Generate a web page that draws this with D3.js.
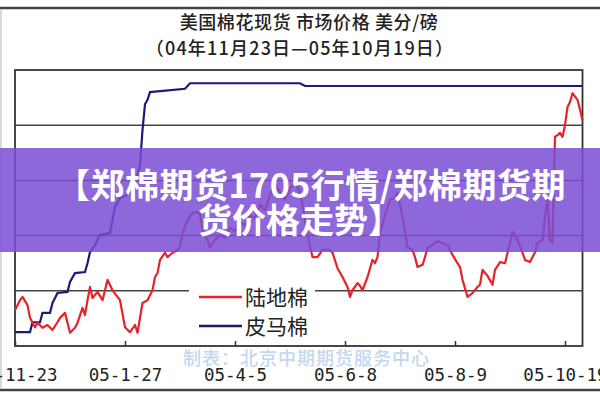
<!DOCTYPE html>
<html><head><meta charset="utf-8">
<script src="https://cdn.jsdelivr.net/npm/d3@7"></script>
<style>html,body{margin:0;padding:0;background:#fff;}svg{display:block;}</style>
</head><body>
<script>
// ---- data (trading-day index, cents per pound) ----
const tickDays = [0, 44, 88, 132, 176, 220];
const tickLabels = ["04-11-23", "05-1-27", "05-4-5", "05-6-8", "05-8-9", "05-10-19"];
const gridValues = [50, 60, 70, 80];

const uplandDays = [0,2,3,5,6,8,9,11,13,15,17,18,20,22,24,25,27,28,29,30,31,33,35,36,37,39,41,42,44,46,48,49,51,53,55,56,57,58,60,61,63,65,66,67,69,71,73,74,75,77,78,80,82,84,86,88,90,92,94,96,98,100,102,104,106,108,110,112,114,115,117,119,121,123,126,127,129,131,133,134,135,137,138,139,141,143,144,145,146,148,150,152,153,155,157,159,160,161,163,164,165,167,169,170,173,174,175,177,178,179,181,183,185,186,187,189,191,192,194,196,198,199,201,203,204,206,208,209,211,212,213,214,215,216,217,218,219,220,221,222,223,225,226,227];
const uplandPrices = [46.5,48.3,48.9,47.4,45.1,43.4,44.2,43.3,43.8,42.9,44.3,45.1,46.0,42.4,43.3,44.2,46.9,45.6,48.3,50.7,48.7,49.8,48.3,50.1,52.0,50.1,48.9,48.3,43.4,42.5,43.8,42.4,47.8,48.3,50.1,52.5,53.2,55.6,56.9,56.1,56.9,57.4,57.9,60.5,62.8,64.1,64.3,63.9,61.0,59.2,57.9,59.2,60.1,59.6,61.4,60.7,62.5,61.9,63.7,63.2,65.6,64.6,67.4,69.2,67.9,66.5,68.6,69.5,67.9,65.6,60.1,56.1,56.1,57.4,57.4,56.9,54.1,52.5,50.7,48.9,50.1,51.4,50.9,50.1,52.5,55.6,55.0,56.1,60.5,63.7,66.5,66.8,67.7,63.4,57.9,57.4,56.1,54.3,54.7,56.1,57.8,58.3,59.0,58.8,58.3,57.4,56.5,55.0,54.3,52.0,48.9,49.6,50.7,51.1,53.8,52.7,51.1,53.8,55.2,55.0,58.7,60.7,59.2,56.9,55.6,55.2,57.0,58.7,59.2,63.4,66.5,59.2,58.7,77.9,78.2,78.6,77.9,80.0,83.3,84.2,85.8,84.6,82.8,80.9];

const pimaDays = [0,6,7,10,11,14,15,17,21,22,24,28,29,30,32,34,38,40,42,45,47,49,50,51,52,53,54,68,70,114,116,227];
const pimaPrices = [42.5,42.5,44.3,44.3,46.0,46.0,47.8,49.6,49.8,51.6,53.2,53.4,55.0,57.0,58.3,60.1,60.5,65.2,66.8,67.4,68.3,71.0,72.8,79.1,83.8,84.6,86.0,86.6,87.6,87.6,87.1,87.1];

const titleLines = ["美国棉花现货 市场价格  美分/磅", "（04年11月23日—05年10月19日）"];
const legendNames = ["陆地棉", "皮马棉"];
const bannerLines = ["【郑棉期货1705行情/郑棉期货期", "货价格走势】"];
const sourceNote = "制表：北京中期期货服务中心";

// ---- layout ----
const W = 600, H = 400;
const L = 15, R = 582.5, T = 70, B = 346;
const colors = ["#e8222a", "#1c1a78"];

const svg = d3.select("body").append("svg").attr("width", W).attr("height", H);
svg.append("rect").attr("width", W).attr("height", H).attr("fill", "#fff");

const x = d3.scaleLinear().domain([0, 227]).range([L, R]);
const y = d3.scaleLinear().domain([40, 90]).range([B, T]);

// frame lines of the picture
svg.append("line").attr("x1", 0).attr("x2", W).attr("y1", 8).attr("y2", 8).attr("stroke", "#444").attr("stroke-width", 2.5);
svg.append("line").attr("x1", 0).attr("x2", W).attr("y1", 390).attr("y2", 390).attr("stroke", "#444").attr("stroke-width", 2.5);
svg.append("line").attr("x1", 1).attr("x2", 1).attr("y1", 9).attr("y2", 389).attr("stroke", "#ccc").attr("stroke-width", 1.5);

// titles
svg.selectAll("text.title").data(titleLines).join("text")
  .attr("class", "title")
  .attr("x", (d, i) => i === 0 ? 309 : 300)
  .attr("y", (d, i) => i === 0 ? 29 : 55)
  .attr("text-anchor", "middle")
  .attr("font-family", "'Noto Sans CJK SC', sans-serif")
  .attr("font-size", 18)
  .attr("letter-spacing", (d, i) => i === 0 ? 0.6 : 1.2)
  .attr("font-weight", 500)
  .attr("fill", "#222")
  .text(d => d);

// gridlines
svg.append("g").selectAll("line").data(gridValues).join("line")
  .attr("x1", L).attr("x2", R)
  .attr("y1", d => y(d)).attr("y2", d => y(d))
  .attr("stroke", "#444").attr("stroke-width", 1.5);

// plot border
svg.append("rect").attr("x", L).attr("y", T).attr("width", R - L).attr("height", B - T)
  .attr("fill", "none").attr("stroke", "#333").attr("stroke-width", 1.8);

// x axis
const xAxis = d3.axisBottom(x).tickValues(tickDays)
  .tickFormat((d, i) => tickLabels[i]).tickSizeInner(-5).tickSizeOuter(0).tickPadding(23);
const gx = svg.append("g").attr("transform", `translate(0,${B})`).call(xAxis);
gx.select(".domain").remove();
gx.selectAll(".tick line").attr("stroke", "#333").attr("stroke-width", 1.5);
gx.selectAll(".tick text").attr("font-family", "'DejaVu Sans Mono', monospace")
  .attr("font-size", 17.5).attr("fill", "#222");

// series
const line = d3.line().x(d => x(d[0])).y(d => y(d[1]));
const pima = pimaDays.map((d, i) => [d, pimaPrices[i]]);
const upland = uplandDays.map((d, i) => [d, uplandPrices[i]]);
svg.append("path").datum(pima).attr("d", line).attr("fill", "none")
  .attr("stroke", colors[1]).attr("stroke-width", 2.2);
svg.append("path").datum(upland).attr("d", line).attr("fill", "none")
  .attr("stroke", colors[0]).attr("stroke-width", 2.2).attr("stroke-linejoin", "round");

// legend
svg.append("rect").attr("x", 189).attr("y", 280).attr("width", 126).attr("height", 60).attr("fill", "#fff");
const lg = svg.append("g").selectAll("g").data(legendNames).join("g")
  .attr("transform", (d, i) => `translate(0,${297 + i * 29})`);
lg.append("line").attr("x1", 199).attr("x2", 242).attr("y1", 0).attr("y2", 0)
  .attr("stroke", (d, i) => colors[i]).attr("stroke-width", 2.5);
lg.append("text").attr("x", 245).attr("y", 8)
  .attr("font-family", "'Noto Sans CJK SC', sans-serif").attr("font-size", 21)
  .attr("fill", "#222").text(d => d);

// source note
svg.append("text").attr("x", 183).attr("y", 365)
  .attr("font-family", "'Noto Sans CJK SC', sans-serif").attr("font-size", 18)
  .attr("letter-spacing", 1)
  .attr("fill", "#b3cfee").attr("font-weight", 500).attr("opacity", 0.8)
  .text(sourceNote);

// banner overlay
svg.append("rect").attr("x", 0).attr("y", 148).attr("width", W).attr("height", 104)
  .attr("fill", "#7a4cd3").attr("opacity", 0.85);
svg.selectAll("text.banner").data(bannerLines).join("text")
  .attr("class", "banner")
  .attr("x", (d, i) => i === 0 ? 311 : 300)
  .attr("y", (d, i) => 198 + i * 35)
  .attr("text-anchor", "middle")
  .attr("font-family", "'Noto Sans CJK SC', sans-serif")
  .attr("font-size", 34).attr("font-weight", 700)
  .attr("letter-spacing", (d, i) => i === 0 ? 0.5 : 0)
  .attr("fill", "#fff")
  .text(d => d);
</script>
</body></html>
